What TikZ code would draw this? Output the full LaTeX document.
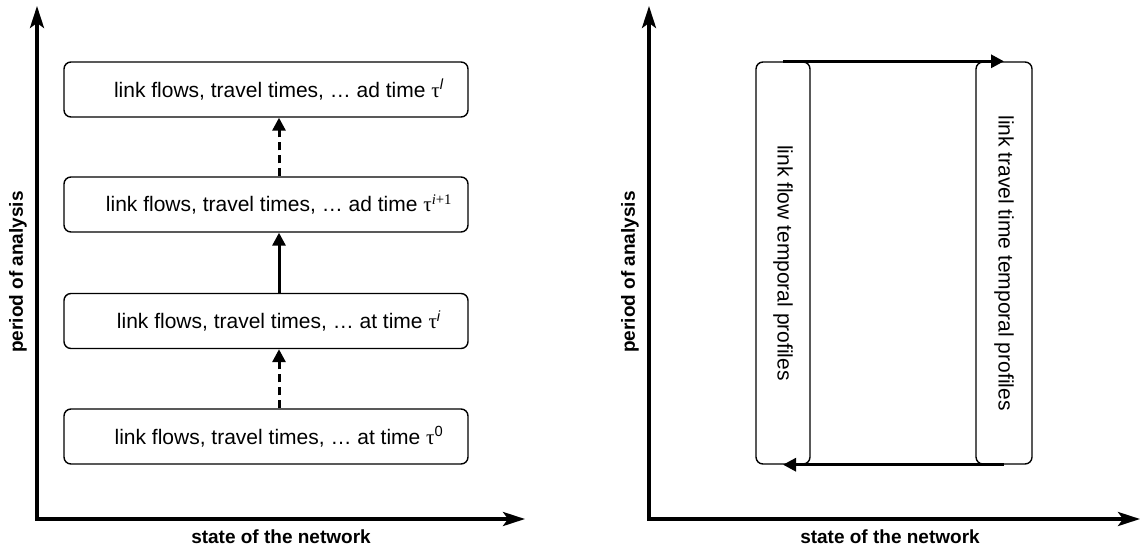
\documentclass[tikz,border=0pt]{standalone}
\usepackage{fontspec}
\setmainfont{Liberation Sans}
\newfontfamily\greekfont{Liberation Serif}
\usepackage{graphicx}
\usepackage{tikz}
\usetikzlibrary{positioning}
\usetikzlibrary{arrows.meta}

\newcommand{\tautime}[1]{{\greekfont τ}\textsuperscript{#1}}

\begin{document}
\begin{tikzpicture}[x=1pt, y=-1pt,
    statebox/.style={rectangle, draw, line width=1.4pt, rounded corners=7pt,
        minimum width=404pt, minimum height=55pt, inner sep=0pt,
        execute at begin node={\hspace*{26pt}},
        font=\fontsize{21}{25}\selectfont},
    profbox/.style={rectangle, draw, line width=1.4pt, rounded corners=7pt,
        minimum height=402pt, inner sep=0pt,
        font=\fontsize{21}{25}\selectfont},
    axes/.style={line width=3.5pt, miter limit=10,
        {Stealth[length=22pt,width=14pt,inset=5pt]}-{Stealth[length=22pt,width=14pt,inset=5pt]}},
    axislabel/.style={font=\fontsize{19}{23}\selectfont\bfseries},
    jump/.style={line width=3pt, -{Triangle[length=13pt,width=13pt]}},
    gap/.style={jump, dash pattern=on 8pt off 5pt}]
    \useasboundingbox (0,0) rectangle (1147,546);

    % left: states in time
    \coordinate (ytipA) at (37,6);
    \coordinate (xtipA) at (525,519);
    \draw[axes] (ytipA) |- (xtipA);
    \path
        node[axislabel, rotate=90] (periodA) at (18,272) {period of analysis}
        node[axislabel] (stateA) at (281,537) {state of the network};
    \path
        node[statebox] (tauL)  at (266,89.5)  {link flows, travel times, … ad time \tautime{\textit{l}}}
        node[statebox] (tauI1) at (266,204.5) {link flows, travel times, … ad time \tautime{{\greekfont\itshape i}{\greekfont +1}}}
        node[statebox] (tauI)  at (266,321)   {link flows, travel times, … at time \tautime{\textit{i}}}
        node[statebox] (tau0)  at (266,436.5) {link flows, travel times, … at time \tautime{0}};
    \draw[gap]  ([xshift=13pt]tau0.north) -- ([xshift=13pt]tauI.south);
    \draw[jump] ([xshift=13pt]tauI.north) -- ([xshift=13pt]tauI1.south);
    \draw[gap]  ([xshift=13pt]tauI1.north) -- ([xshift=13pt]tauL.south);

    % right: temporal profiles
    \coordinate (ytipB) at (649,6);
    \coordinate (xtipB) at (1140,519);
    \draw[axes] (ytipB) |- (xtipB);
    \path
        node[axislabel, rotate=90] (periodB) at (630,272) {period of analysis}
        node[axislabel] (stateB) at (890,537) {state of the network};
    \path
        node[profbox, minimum width=54pt] (flowprof) at (783,263)
            {\rotatebox{-90}{link flow temporal profiles}}
        node[profbox, minimum width=56pt] (ttprof) at (1004,263)
            {\rotatebox{-90}{link travel time temporal profiles}};
    \draw[jump] (flowprof.north) -- (ttprof.north);
    \draw[jump] (ttprof.south) -- (flowprof.south);
\end{tikzpicture}
\end{document}
